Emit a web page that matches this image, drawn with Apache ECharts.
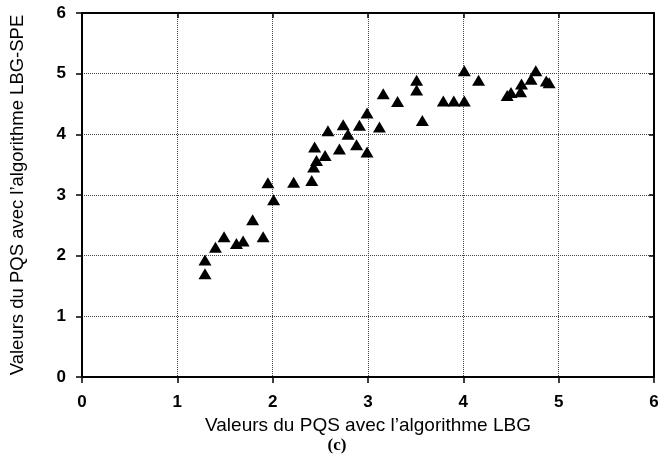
<!DOCTYPE html>
<html>
<head>
<meta charset="utf-8">
<script src="https://cdn.jsdelivr.net/npm/echarts@6/dist/echarts.min.js"></script>
<style>
  html, body { margin: 0; padding: 0; background: #fff; }
  #main { width: 668px; height: 464px; }
</style>
</head>
<body>
<div id="main"></div>
<script>
// valeurs PQS
var pqsLBG = [1.29, 1.29, 1.40, 1.49, 1.62, 1.69, 1.79, 1.90, 1.95, 2.01,
    2.22, 2.41, 2.43, 2.46, 2.44, 2.55, 2.58, 2.70, 2.74, 2.79,
    2.88, 2.91, 2.99, 2.99, 3.12, 3.16, 3.31, 3.51, 3.51, 3.57,
    3.79, 3.90, 4.01, 4.01, 4.16, 4.46, 4.50, 4.60, 4.61, 4.71,
    4.76, 4.87, 4.90];
var pqsLBGSPE = [1.70, 1.93, 2.14, 2.31, 2.20, 2.24, 2.59, 2.31, 3.20, 2.92,
    3.21, 3.24, 3.46, 3.57, 3.79, 3.65, 4.06, 3.76, 4.16, 4.00,
    3.83, 4.15, 4.35, 3.71, 4.12, 4.67, 4.54, 4.89, 4.73, 4.23,
    4.55, 4.55, 4.55, 5.05, 4.89, 4.64, 4.69, 4.70, 4.83, 4.91,
    5.05, 4.88, 4.85];

var points = pqsLBG.map(function (x, i) { return [x, pqsLBGSPE[i]]; });

var myChart = echarts.init(document.getElementById('main'));

var font = 'Liberation Sans, Arial, sans-serif';

// axe secondaire (haut / droite) : juste le cadre avec petites graduations
function frameAxis(pos) {
    return {
        type: 'value',
        position: pos,
        min: 0,
        max: 6,
        interval: 1,
        axisLine: { show: true, onZero: false, lineStyle: { color: '#000', width: 2 } },
        axisTick: { show: true, inside: true, length: 5, lineStyle: { color: '#000', width: 1.5 } },
        axisLabel: { show: false },
        splitLine: { show: false }
    };
}

var option = {
    animation: false,
    grid: {
        left: 82,
        right: 14,
        top: 13,
        bottom: 87
    },
    xAxis: [
        {
            type: 'value',
            min: 0,
            max: 6,
            interval: 1,
            name: 'Valeurs du PQS avec l\u2019algorithme LBG',
            nameLocation: 'middle',
            nameGap: 37,
            nameTextStyle: { color: '#000', fontSize: 19, fontFamily: font },
            axisLine: { show: true, onZero: false, lineStyle: { color: '#000', width: 2 } },
            axisTick: { show: true, length: 6, lineStyle: { color: '#000', width: 1.5 } },
            axisLabel: { color: '#000', fontSize: 17, fontWeight: 'bold', fontFamily: font, margin: 17 },
            splitLine: { show: true, lineStyle: { color: '#444', type: 'dotted', width: 1 } }
        },
        frameAxis('top')
    ],
    yAxis: [
        {
            type: 'value',
            min: 0,
            max: 6,
            interval: 1,
            name: 'Valeurs du PQS avec l\u2019algorithme LBG-SPE',
            nameLocation: 'middle',
            nameGap: 55,
            nameTextStyle: { color: '#000', fontSize: 18.5, fontFamily: font },
            axisLine: { show: true, onZero: false, lineStyle: { color: '#000', width: 2 } },
            axisTick: { show: true, length: 6, lineStyle: { color: '#000', width: 1.5 } },
            axisLabel: { color: '#000', fontSize: 17, fontWeight: 'bold', fontFamily: font, margin: 16 },
            splitLine: { show: true, lineStyle: { color: '#444', type: 'dotted', width: 1 } }
        },
        frameAxis('right')
    ],
    graphic: [
        {
            type: 'text',
            x: 337,
            y: 446,
            style: {
                text: '(c)',
                fill: '#000',
                font: 'bold 17px "Liberation Serif", "Times New Roman", serif',
                align: 'center',
                verticalAlign: 'middle'
            }
        }
    ],
    series: [
        {
            type: 'scatter',
            symbol: 'triangle',
            symbolSize: [13, 11],
            itemStyle: { color: '#000', opacity: 1 },
            data: points
        }
    ]
};

myChart.setOption(option, true);
</script>
</body>
</html>
